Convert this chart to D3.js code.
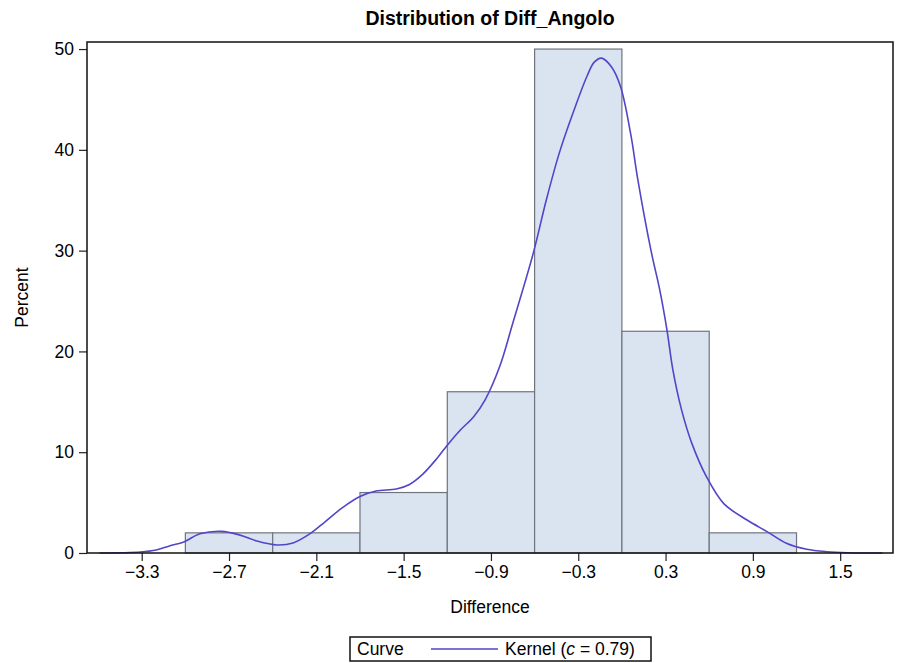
<!DOCTYPE html>
<html>
<head>
<meta charset="utf-8">
<script src="https://cdn.jsdelivr.net/npm/d3@7"></script>
<style>
  html, body { margin: 0; padding: 0; background: #fff; }
  svg { display: block; }
  text { font-family: "Liberation Sans", Arial, sans-serif; fill: #000; }
</style>
</head>
<body>
<svg id="chart" width="897" height="663"></svg>
<script>
/* ── DATI ─────────────────────────────────────── */

const binMid   = [-2.7, -2.1, -1.5, -0.9, -0.3, 0.3, 0.9];
const binPct   = [2, 2, 6, 16, 50, 22, 2];
const binWidth = 0.6;

const xTicks = [-3.3, -2.7, -2.1, -1.5, -0.9, -0.3, 0.3, 0.9, 1.5];
const yTicks = [0, 10, 20, 30, 40, 50];

// curva kernel
const kernelX = [-3.59, -3.31, -3.2, -3.11, -3.01, -2.9, -2.75, -2.63, -2.51, -2.37,
                 -2.26, -2.14, -2.04, -1.92, -1.8, -1.69, -1.55, -1.46, -1.37, -1.27,
                 -1.2, -1.11, -1.02, -0.94, -0.84, -0.75, -0.61, -0.52, -0.43, -0.33,
                 -0.24, -0.19, -0.14, -0.07, -0.01, 0.06, 0.11, 0.2, 0.26, 0.31,
                 0.35, 0.41, 0.48, 0.58, 0.7, 0.86, 1.0, 1.13, 1.27, 1.41,
                 1.55, 1.79];
const kernelY = [0, 0.1, 0.3, 0.7, 1.1, 1.9, 2.15, 1.8, 1.2, 0.8,
                 1.0, 1.95, 3.1, 4.5, 5.6, 6.15, 6.35, 6.8, 7.8, 9.4,
                 10.7, 12.2, 13.5, 15.2, 18.5, 22.8, 29.7, 35.0, 39.7, 43.9,
                 47.3, 48.7, 49.1, 48.2, 46.3, 41.6, 37.0, 30.0, 26.1, 22.1,
                 18.2, 14.2, 10.9, 7.6, 4.9, 3.27, 2.1, 0.96, 0.37, 0.13,
                 0.03, 0];

/* ── LAYOUT ───────────────────────────────────── */

const PLOT = { left: 87, right: 893, top: 42, bottom: 553 };

const svg = d3.select("#chart");

const x = d3.scaleLinear().domain([-3.676, 1.863]).range([PLOT.left, PLOT.right]);
const y = d3.scaleLinear().domain([0, 50.7]).range([PLOT.bottom, PLOT.top]);

/* ── BARRE ────────────────────────────────────── */

svg.append("g")
  .selectAll("rect")
  .data(binMid.map((m, i) => ({ m, p: binPct[i] })))
  .join("rect")
    .attr("x", d => x(d.m - binWidth / 2))
    .attr("y", d => y(d.p))
    .attr("width", d => x(d.m + binWidth / 2) - x(d.m - binWidth / 2))
    .attr("height", d => y(0) - y(d.p))
    .attr("fill", "#dae3f0")
    .attr("stroke", "#70757d")
    .attr("stroke-width", 1.2);

/* ── CURVA KERNEL ─────────────────────────────── */

const line = d3.line()
  .x(d => x(d[0]))
  .y(d => y(d[1]))
  .curve(d3.curveCatmullRom.alpha(0.5));

svg.append("path")
  .datum(kernelX.map((v, i) => [v, kernelY[i]]))
  .attr("fill", "none")
  .attr("stroke", "#5245c9")
  .attr("stroke-width", 1.6)
  .attr("d", line);

/* ── ASSI ─────────────────────────────────────── */

const fmt = v => (v < 0 ? "\u2212" : "") + Math.abs(v).toFixed(1);

const gx = svg.append("g")
  .attr("transform", `translate(0,${PLOT.bottom})`)
  .call(d3.axisBottom(x).tickValues(xTicks).tickFormat(fmt).tickSize(8).tickPadding(5).tickSizeOuter(0));

const gy = svg.append("g")
  .attr("transform", `translate(${PLOT.left},0)`)
  .call(d3.axisLeft(y).tickValues(yTicks).tickSize(8).tickPadding(5).tickSizeOuter(0));

[gx, gy].forEach(g => {
  g.select(".domain").remove();
  g.selectAll(".tick line").attr("stroke", "#222").attr("stroke-width", 1.2);
  g.selectAll(".tick text")
    .attr("font-family", "'Liberation Sans', Arial, sans-serif")
    .attr("font-size", 17.5)
    .attr("fill", "#000");
});

// cornice
svg.append("rect")
  .attr("x", PLOT.left).attr("y", PLOT.top)
  .attr("width", PLOT.right - PLOT.left)
  .attr("height", PLOT.bottom - PLOT.top)
  .attr("fill", "none")
  .attr("stroke", "#111")
  .attr("stroke-width", 1.5);

/* ── TESTI ────────────────────────────────────── */

svg.append("text")
  .attr("x", (PLOT.left + PLOT.right) / 2).attr("y", 25)
  .attr("text-anchor", "middle")
  .attr("font-family", "'DejaVu Sans', Verdana, sans-serif")
  .attr("font-weight", "bold")
  .attr("font-size", 19.5)
  .text("Distribution of Diff_Angolo");

svg.append("text")
  .attr("x", (PLOT.left + PLOT.right) / 2).attr("y", 613)
  .attr("text-anchor", "middle")
  .attr("font-size", 17.5)
  .text("Difference");

svg.append("text")
  .attr("transform", `translate(28,${(PLOT.top + PLOT.bottom) / 2}) rotate(-90)`)
  .attr("text-anchor", "middle")
  .attr("font-size", 17.5)
  .text("Percent");

/* ── LEGENDA ──────────────────────────────────── */

const leg = svg.append("g");
leg.append("rect")
  .attr("x", 350).attr("y", 637).attr("width", 301).attr("height", 24)
  .attr("fill", "#fff").attr("stroke", "#111").attr("stroke-width", 1.5);
leg.append("text")
  .attr("x", 357).attr("y", 655)
  .attr("font-size", 17.5)
  .text("Curve");
leg.append("line")
  .attr("x1", 431).attr("x2", 498).attr("y1", 649).attr("y2", 649)
  .attr("stroke", "#5245c9").attr("stroke-width", 1.6);
const lt = leg.append("text")
  .attr("x", 505).attr("y", 655)
  .attr("font-size", 17.5);
lt.append("tspan").text("Kernel (");
lt.append("tspan").attr("font-style", "italic").text("c");
lt.append("tspan").text(" = 0.79)");
</script>
</body>
</html>
